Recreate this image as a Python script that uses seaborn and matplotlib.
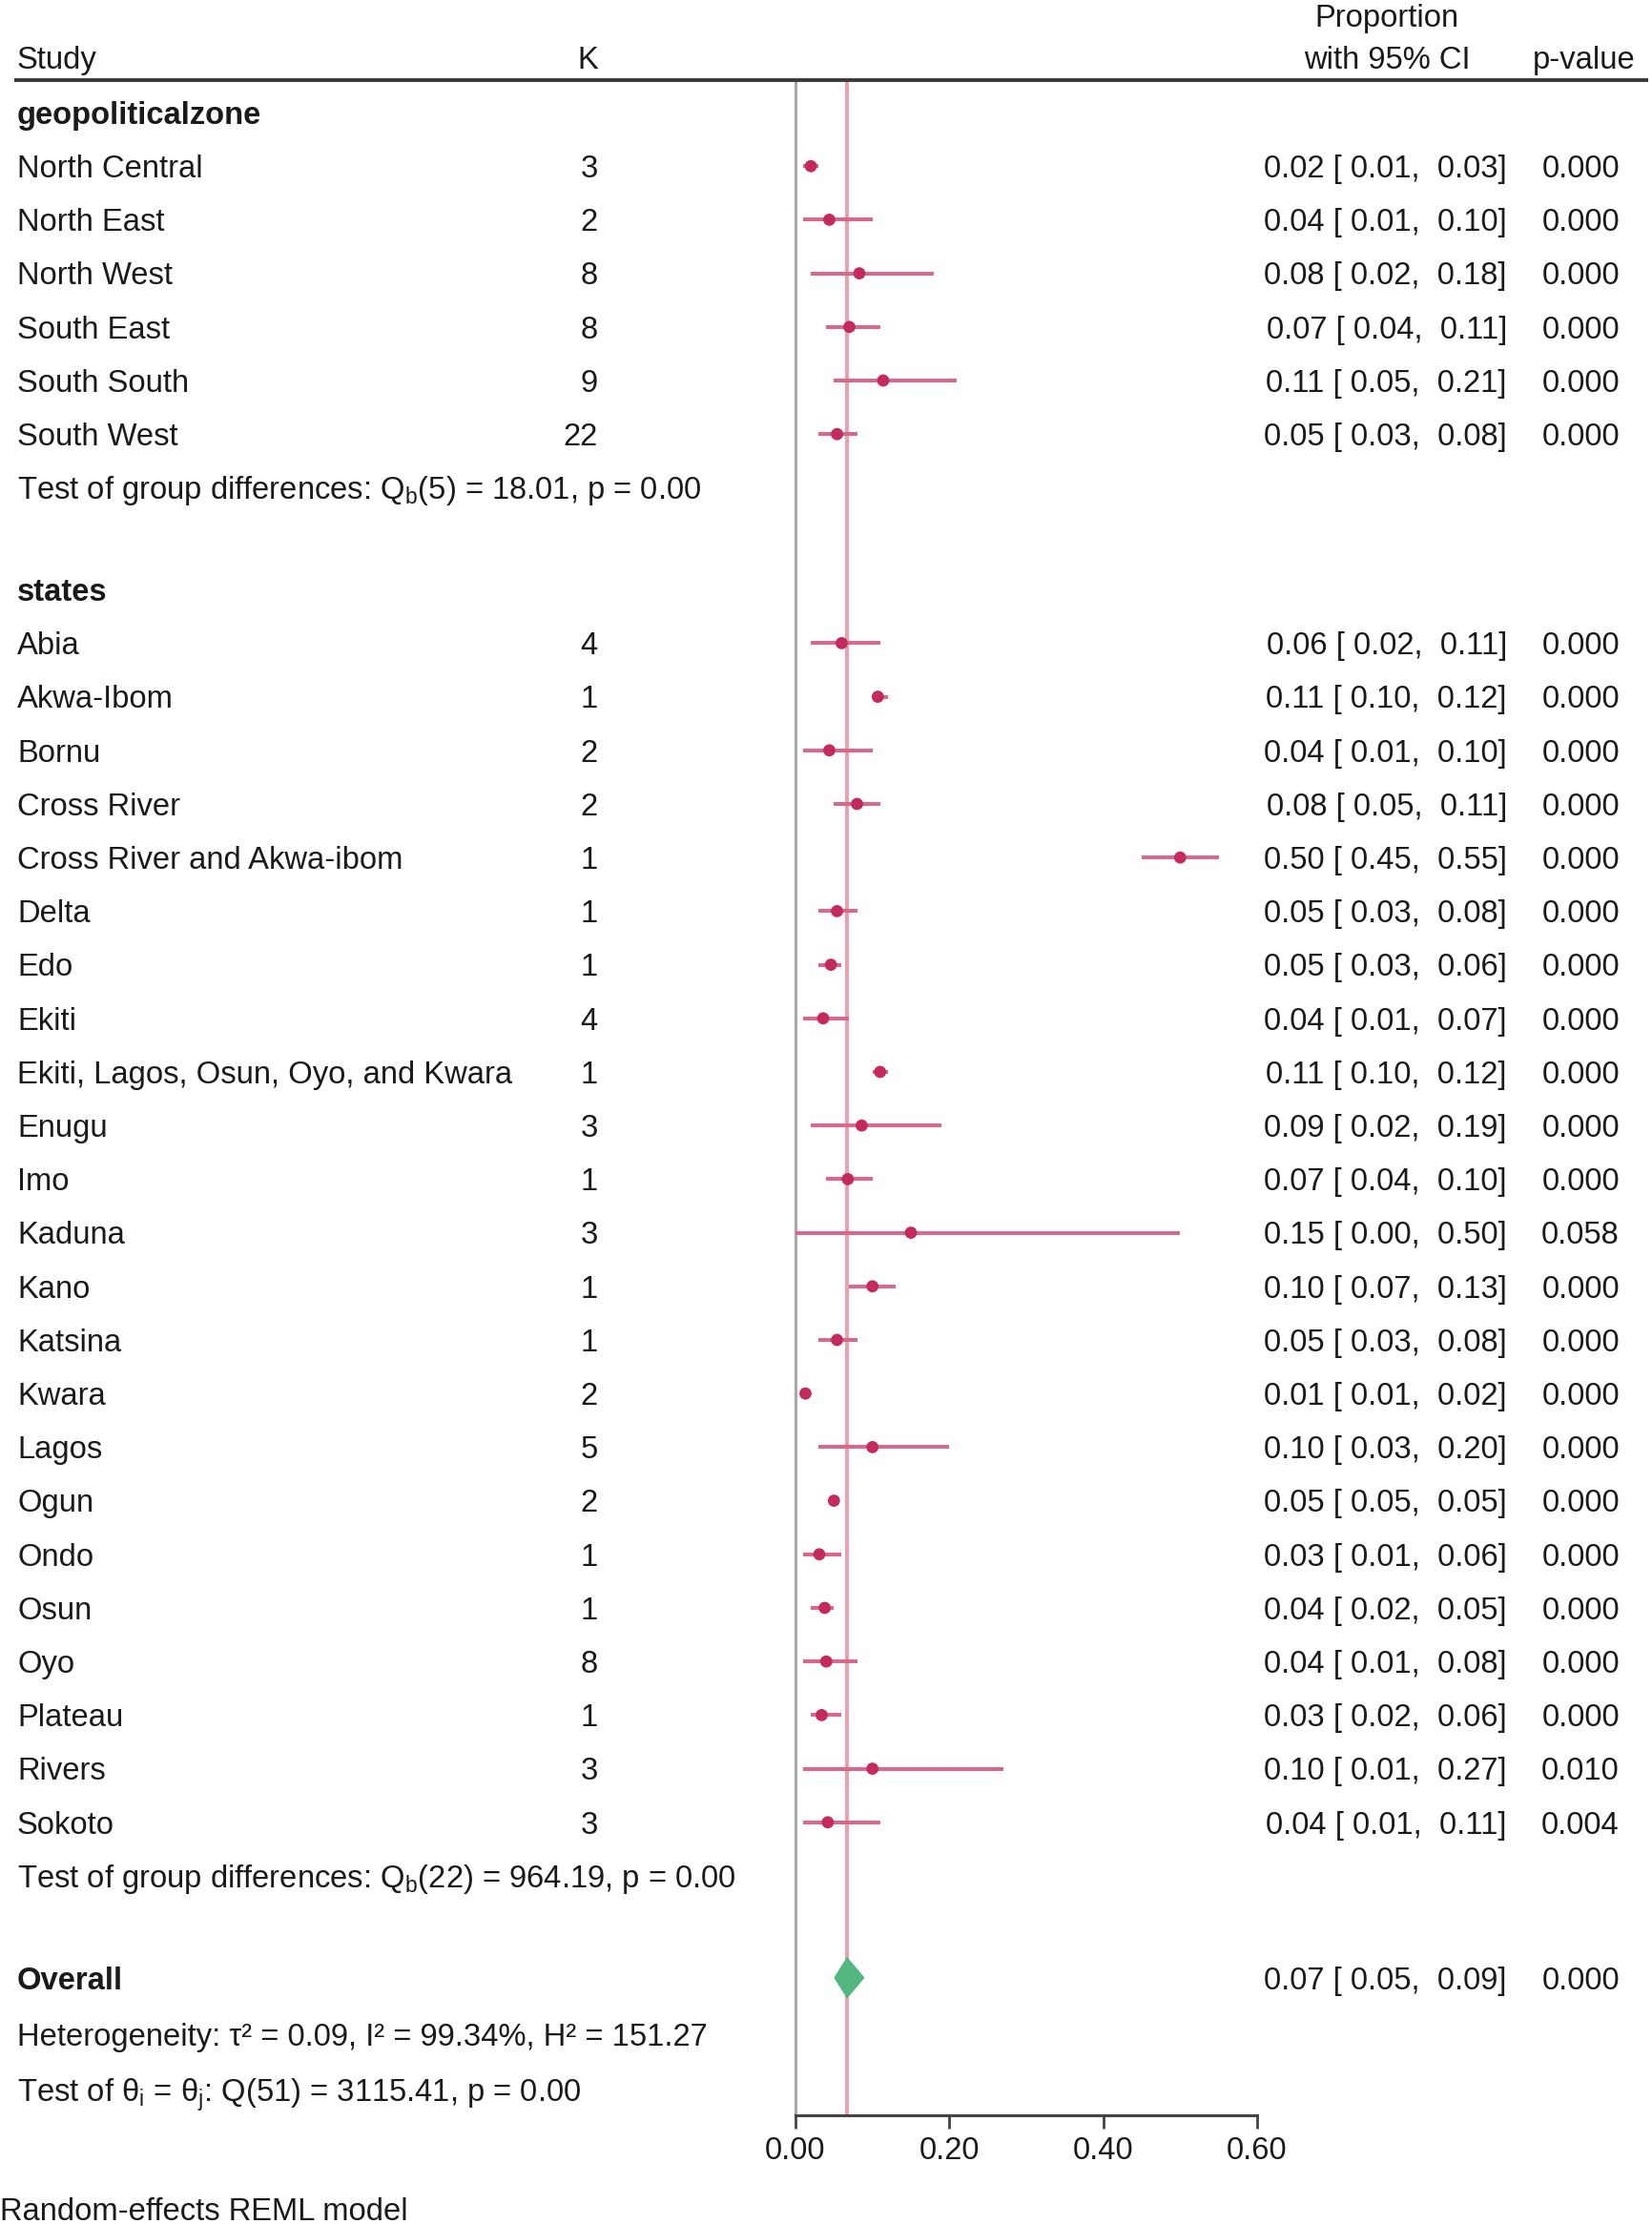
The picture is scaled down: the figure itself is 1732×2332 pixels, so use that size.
import numpy as np
import pandas as pd
import matplotlib
matplotlib.use("Agg")
import matplotlib.pyplot as plt
import matplotlib.transforms as mtransforms
import seaborn as sns

# ---- data ----
zones = ["North Central", "North East", "North West", "South East", "South South", "South West"]
zone_k = [3, 2, 8, 8, 9, 22]
zone_est = [0.02, 0.044, 0.083, 0.07, 0.114, 0.054]
zone_lo = [0.01, 0.01, 0.02, 0.04, 0.05, 0.03]
zone_hi = [0.03, 0.10, 0.18, 0.11, 0.21, 0.08]
zone_p = [0.000, 0.000, 0.000, 0.000, 0.000, 0.000]
zone_test = r"Test of group differences: Q$_\mathregular{b}$(5) = 18.01, p = 0.00"

states = ["Abia", "Akwa-Ibom", "Bornu", "Cross River", "Cross River and Akwa-ibom",
          "Delta", "Edo", "Ekiti", "Ekiti, Lagos, Osun, Oyo, and Kwara", "Enugu", "Imo",
          "Kaduna", "Kano", "Katsina", "Kwara", "Lagos", "Ogun", "Ondo", "Osun", "Oyo",
          "Plateau", "Rivers", "Sokoto"]
state_k = [4, 1, 2, 2, 1, 1, 1, 4, 1, 3, 1, 3, 1, 1, 2, 5, 2, 1, 1, 8, 1, 3, 3]
state_est = [0.06, 0.107, 0.044, 0.08, 0.50, 0.054, 0.046, 0.036, 0.11, 0.086, 0.068,
             0.15, 0.10, 0.054, 0.013, 0.10, 0.05, 0.031, 0.038, 0.04, 0.034, 0.10, 0.042]
state_lo = [0.02, 0.10, 0.01, 0.05, 0.45, 0.03, 0.03, 0.01, 0.10, 0.02, 0.04,
            0.00, 0.07, 0.03, 0.01, 0.03, 0.05, 0.01, 0.02, 0.01, 0.02, 0.01, 0.01]
state_hi = [0.11, 0.12, 0.10, 0.11, 0.55, 0.08, 0.06, 0.07, 0.12, 0.19, 0.10,
            0.50, 0.13, 0.08, 0.02, 0.20, 0.05, 0.06, 0.05, 0.08, 0.06, 0.27, 0.11]
state_p = [0.000] * 11 + [0.058] + [0.000] * 9 + [0.010, 0.004]
state_test = r"Test of group differences: Q$_\mathregular{b}$(22) = 964.19, p = 0.00"

overall_est, overall_lo, overall_hi, overall_p = 0.067, 0.05, 0.09, 0.000
heterogeneity = "Heterogeneity: τ² = 0.09, I² = 99.34%, H² = 151.27"
homog_test = r"Test of θ$_\mathregular{i}$ = θ$_\mathregular{j}$: Q(51) = 3115.41, p = 0.00"
x_ticks = [0.0, 0.2, 0.4, 0.6]
model_note = "Random-effects REML model"

# ---- style ----
sns.set_theme(style="white")
plt.rcParams["font.family"] = ["Liberation Sans", "DejaVu Sans"]
plt.rcParams["mathtext.fontset"] = "custom"
plt.rcParams["mathtext.rm"] = "Liberation Sans"
plt.rcParams["mathtext.it"] = "Liberation Sans:italic"
FS = 23.6
TXT = "#1a1a1a"
MARK = "#C52A5E"
CI_COL = "#D9688C"
REF_COL = "#E3A3B1"
DIAM = "#52B880"

W, H, DPI = 1733, 2332, 100
fig = plt.figure(figsize=(W / DPI, H / DPI), dpi=DPI)

# layout in pixels
x0_px, px_per_unit = 834, 806.7
row0_px, row_px = 118, 56.2
axis_px = 2218
ax = fig.add_axes([0, (H - axis_px) / H, 1, axis_px / H])
ax.set_xlim(-x0_px / px_per_unit, (W - x0_px) / px_per_unit)
ax.set_ylim((axis_px - row0_px) / row_px, -row0_px / row_px)

# rows (sections separated by a slightly short blank row)
gap = 1.9
r_zone_head = 0
zone_rows = r_zone_head + 1 + np.arange(len(zones))
r_zone_test = zone_rows[-1] + 1
r_state_head = r_zone_test + gap
state_rows = r_state_head + 1 + np.arange(len(states))
r_state_test = state_rows[-1] + 1
r_overall = r_state_test + gap
r_het, r_homog = r_overall + 1.06, r_overall + 2.1
r_header_line = (84 - row0_px) / row_px

df = pd.DataFrame({
    "study": zones + states,
    "k": zone_k + state_k,
    "est": zone_est + state_est,
    "lo": zone_lo + state_lo,
    "hi": zone_hi + state_hi,
    "p": zone_p + state_p,
    "row": np.concatenate([zone_rows, state_rows]),
})

# reference lines
ax.vlines(0, r_header_line, ax.get_ylim()[0], color="#A8A8A8", lw=2.2, zorder=1)
ax.vlines(overall_est, r_header_line, ax.get_ylim()[0], color=REF_COL, lw=3.0, zorder=1)

# CIs and points
ax.hlines(df["row"], df["lo"], df["hi"], color=CI_COL, lw=2.9, zorder=2)
sns.scatterplot(data=df, x="est", y="row", ax=ax, color=MARK, s=85,
                edgecolor="none", zorder=3, legend=False)

# overall diamond
ax.fill([overall_lo, overall_est, overall_hi, overall_est],
        [r_overall, r_overall - 0.39, r_overall, r_overall + 0.39],
        color=DIAM, lw=0, zorder=4)

# axis
for s in ["top", "left", "right"]:
    ax.spines[s].set_visible(False)
ax.spines["bottom"].set_bounds(x_ticks[0], x_ticks[-1])
ax.spines["bottom"].set_color("#444444")
ax.spines["bottom"].set_linewidth(2.2)
ax.set_xticks(x_ticks)
ax.set_xticklabels([f"{t:.2f}" for t in x_ticks])
ax.tick_params(axis="x", bottom=True, length=10, width=2.0, color="#444444",
               pad=6, labelsize=FS, labelcolor=TXT)
ax.set_yticks([])
ax.set_xlabel("")
ax.set_ylabel("")

# text columns
trans = mtransforms.blended_transform_factory(ax.transAxes, ax.transData)
x_study, x_k, x_ci, x_p = 18 / W, 627 / W, 1580 / W, 1698 / W
base = 0.21


def put(x, r, s, ha="left", bold=False):
    ax.text(x, r + base, s, transform=trans, ha=ha, va="baseline", fontsize=FS,
            color=TXT, fontweight="bold" if bold else "normal")


# header
put(x_study, -1.02, "Study")
put(x_k, -1.02, "K", ha="right")
put(1454 / W, -1.82, "Proportion", ha="center")
put(1454 / W, -1.02, "with 95% CI", ha="center")
put(1715 / W, -1.02, "p-value", ha="right")
ax.hlines(r_header_line, 15 / W, 1728 / W, transform=trans, color="#3a3a3a", lw=2.8)

put(x_study, r_zone_head, "geopoliticalzone", bold=True)
put(x_study, r_state_head, "states", bold=True)
for _, row in df.iterrows():
    put(x_study, row["row"], row["study"])
    put(x_k, row["row"], f"{row['k']:d}", ha="right")
    put(x_ci, row["row"], f"{row['est']:.2f} [{row['lo']:5.2f}, {row['hi']:5.2f}]", ha="right")
    put(x_p, row["row"], f"{row['p']:.3f}", ha="right")
put(x_study, r_zone_test, zone_test)
put(x_study, r_state_test, state_test)

put(x_study, r_overall, "Overall", bold=True)
put(x_ci, r_overall, f"{overall_est:.2f} [{overall_lo:5.2f}, {overall_hi:5.2f}]", ha="right")
put(x_p, r_overall, f"{overall_p:.3f}", ha="right")
put(x_study, r_het, heterogeneity)
put(x_study, r_homog, homog_test)

fig.text(0, (H - 2328) / H, model_note, ha="left", va="baseline", fontsize=FS, color=TXT)

fig.savefig("out.png", dpi=DPI, facecolor="white")
